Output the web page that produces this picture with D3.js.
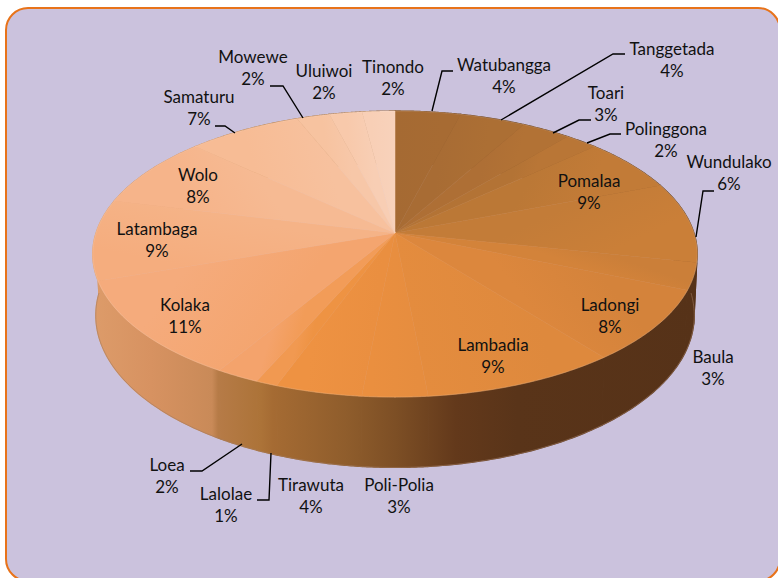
<!DOCTYPE html>
<html><head><meta charset="utf-8">
<script src="https://cdn.jsdelivr.net/npm/d3@7"></script>
<style>html,body{margin:0;padding:0;background:#fff}svg{display:block}</style>
</head><body><svg id="c" width="778" height="578"></svg>
<script>
const categories=["Watubangga","Tanggetada","Toari","Polinggona","Wundulako","Pomalaa","Baula","Ladongi","Lambadia","Poli-Polia","Tirawuta","Lalolae","Loea","Kolaka","Latambaga","Wolo","Samaturu","Mowewe","Uluiwoi","Tinondo"];
const values=[4,4,3,2,6,9,3,8,9,3,4,1,2,11,9,8,7,2,2,2];
const faceColors=["#a56a33","#aa6d34","#b07135","#b57435","#bf7a37","#c67d38","#cf8139","#d8853c","#e28b3e","#e88e3f","#ec9040","#f09545","#f3a064","#f5a877","#f5b083","#f6b78e","#f7bf9a","#f7c5a4","#f8cbaf","#f8d2bb"];
const labelCenters=[[504,65],[672,49],[606,93],[666,129],[729,162],[589,181],[713,357],[610,305],[493,345],[399,485],[311,485],[226,494],[167,465],[185,305],[157,229],[198,175],[199,97],[253,57],[324,71],[393,67]];
const leaderPaths=[[[432,111],[442,71],[453,71]],[[501,120],[613,54],[625,54]],[[553,133],[579,120],[591,120]],[[587,143],[610,134],[621,134]],[[696,237],[703,191],[714,191]],[[271,453],[269,500],[257,500]],[[242,444],[202,471],[190,471]],[[235,133],[225,126],[215,126]],[[303,118],[283,86],[270,86]]];

const svg=d3.select("#c");
const defs=svg.append("defs");
svg.append("rect").attr("x",6).attr("y",8).attr("width",774).attr("height",573).attr("rx",22)
  .attr("fill","#cbc2dd").attr("stroke","#e8731a").attr("stroke-width",2);

const cx=395,cy=233,B=299,A=140,k=0.147,H=60,bottomShrink=0.99;
const proj=(t,f)=>{const s=Math.sin(t),c=Math.cos(t),p=1/(1+k*c);
  return f===0?[cx+B*s*p,cy-A*c*p]:[cx+B*bottomShrink*s*p,cy-A*c*p+H*p];};
const arcs=d3.pie().sort(null).value(d=>d)(values);
const line=d3.line();
const sample=(a)=>d3.range(0,41).map(i=>a.startAngle+(a.endAngle-a.startAngle)*i/40);

const wall=defs.append("linearGradient").attr("id","wall").attr("gradientUnits","userSpaceOnUse")
  .attr("x1",90).attr("x2",700).attr("y1",0).attr("y2",0);
[[0,"#dd9c6a"],[0.1,"#d79261"],[0.2,"#c98a58"],[0.21,"#b67b47"],[0.28,"#ac7338"],[0.3,"#a56b33"],[0.42,"#8f5d2c"],[0.5,"#7d4f25"],[0.6,"#63391b"],[0.7,"#593419"],[1,"#563218"]]
 .forEach(([o,c])=>wall.append("stop").attr("offset",o).attr("stop-color",c));

// per-slice gradient softens the seams between neighbouring slices
const n=faceColors.length,blend=0.4;
arcs.forEach((a,i)=>{
  const r=0.7,p0=proj(a.startAngle,0),p1=proj(a.endAngle,0);
  const gr=defs.append("linearGradient").attr("id","f"+i).attr("gradientUnits","userSpaceOnUse")
    .attr("x1",cx+(p0[0]-cx)*r).attr("y1",cy+(p0[1]-cy)*r).attr("x2",cx+(p1[0]-cx)*r).attr("y2",cy+(p1[1]-cy)*r);
  const c0=i===0?faceColors[0]:d3.interpolateRgb(faceColors[i],faceColors[i-1])(blend);
  const c1=i===n-1?faceColors[n-1]:d3.interpolateRgb(faceColors[i],faceColors[i+1])(blend);
  gr.append("stop").attr("offset",0).attr("stop-color",c0);
  gr.append("stop").attr("offset",1).attr("stop-color",c1);
});

// side wall
svg.append("g").selectAll("path").data(arcs).join("path")
  .attr("d",a=>{const ts=sample(a);return line(ts.map(t=>proj(t,0)).concat(ts.slice().reverse().map(t=>proj(t,1))))+"Z";})
  .attr("fill","url(#wall)").attr("stroke","url(#wall)").attr("stroke-width",1.2);

// lower rim soft edge
svg.append("path").attr("d",line(d3.range(90,271).map(d=>proj(d*Math.PI/180,1))))
  .attr("fill","none").attr("stroke","#a07a60").attr("stroke-width",1).attr("opacity",0.55);

// top face
svg.append("g").selectAll("path").data(arcs).join("path")
  .attr("d",a=>line([[cx,cy]].concat(sample(a).map(t=>proj(t,0))))+"Z")
  .attr("fill",(a,i)=>`url(#f${i})`).attr("stroke",(a,i)=>`url(#f${i})`).attr("stroke-width",0.5);

// rim highlight
svg.append("path").attr("d",line(d3.range(0,361,2).map(d=>proj(d*Math.PI/180,0))))
  .attr("fill","none").attr("stroke","#ffffff").attr("stroke-opacity",0.14).attr("stroke-width",1);

// leaders
svg.append("g").selectAll("path").data(leaderPaths).join("path")
  .attr("d",d=>line(d)).attr("fill","none").attr("stroke","#000").attr("stroke-width",1.4);

// labels
const g=svg.append("g").attr("font-family","Lato, 'Noto Sans', sans-serif").attr("font-size",17).attr("fill","#111").attr("text-anchor","middle");
categories.forEach((name,i)=>{const[x,y]=labelCenters[i];
  g.append("text").attr("x",x).attr("y",y+6).text(name);
  g.append("text").attr("x",x).attr("y",y+28).text(values[i]+"%");});
</script></body></html>
